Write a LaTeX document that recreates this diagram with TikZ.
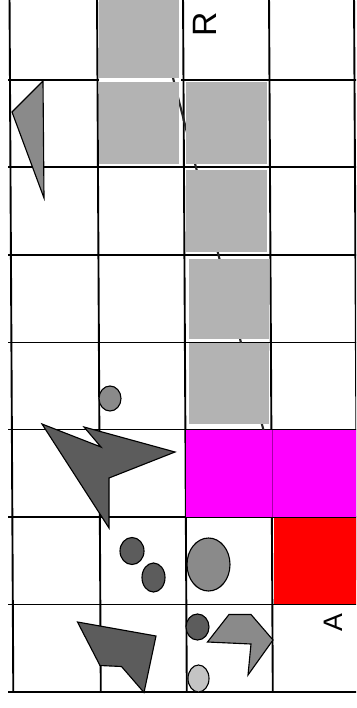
\documentclass[tikz,border=0pt]{standalone}
\usepackage{fontspec}
\setmainfont{Liberation Sans}
\usepackage{xcolor}
\usepackage{tikz}

\definecolor{boxgray}{HTML}{B3B3B3}
\definecolor{inkdark}{HTML}{5C5C5C}
\definecolor{inkmid}{HTML}{8A8A8A}
\definecolor{inklight}{HTML}{C4C4C4}
\definecolor{cellmagenta}{HTML}{FF00FF}
\definecolor{cellred}{HTML}{FF0000}

\begin{document}
\begin{tikzpicture}[x=0.025cm, y=-0.025cm,
    gridline/.style={line width=1.35pt, black},
    graycell/.style={fill=boxgray},
    figdark/.style={fill=inkdark, draw=black, line width=0.8pt, line join=miter},
    figmid/.style={fill=inkmid, draw=black, line width=0.8pt, line join=miter},
    figlight/.style={fill=inklight, draw=black, line width=0.8pt},
    letter/.style={rotate=90, inner sep=0pt}]
        \useasboundingbox (0,0) rectangle (356,708);
        \clip (0,0) rectangle (356,708);

        % Grid
        \foreach \xt in {9.5,97,183,269,354}
            \draw[gridline] (\xt,-7) -- ++(3.8,699);
        \foreach \yt in {80,167,255,342.5,429.5,517,604.5}
            \draw[gridline] (8,\yt) -- (360,\yt);
        \draw[gridline, line width=1.6pt] (8,692) -- (360,692);

        % Hidden route under the gray cells
        \fill[white] (98.5,77.5) rectangle (181,82.5);
        \coordinate (routetop) at (153,0);
        \coordinate (routeend) at (266,440);
        \draw[line width=1.5pt, black!85] (routetop) -- (routeend);

        % Gray cells
        \fill[graycell] (98.5,-7) rectangle (179,78);
        \fill[graycell] (98.5,82) rectangle (179,164);
        \fill[graycell] (185.5,82) rectangle (267,164);
        \fill[graycell] (185.5,170) rectangle (267,252);
        \fill[graycell] (189,259) rectangle (269,339);
        \fill[graycell] (189,343) rectangle (269,424);

        % Coloured cells
        \fill[cellmagenta] (186,429.5) rectangle (360,516.5);
        \draw[cellmagenta!65!black, line width=0.3pt] (272,429.5) -- (272,516.5);
        \fill[cellred] (274,517.5) rectangle (360,604);

        % Figures
        \filldraw[figmid] (43,81) -- (12,112) -- (44,198) -- cycle;
        \filldraw[figmid] (110,398.5) ellipse [x radius=11, y radius=12.5];
        \filldraw[figdark] (42,424) -- (101,447) -- (84,427) -- (175,452)
            -- (109,478) -- (109,528) -- cycle;
        \filldraw[figdark] (132,551) ellipse [x radius=12, y radius=13.5];
        \filldraw[figdark] (153.5,577.5) ellipse [x radius=11.5, y radius=14.5];
        \filldraw[figmid] (208.5,564.5) ellipse [x radius=21.5, y radius=26.5];
        \filldraw[figdark] (77.5,622) -- (100,665.5) -- (121.5,666.5)
            -- (144,692.5) -- (156,636) -- cycle;
        \filldraw[figdark] (197.5,627) ellipse [x radius=11.5, y radius=13];
        \filldraw[figlight] (198.5,678.5) ellipse [x radius=10.5, y radius=13.5];
        \filldraw[figmid] (207.5,642) -- (229,614.5) -- (251,614.5) -- (273,640)
            -- (248,675) -- (251,644) -- cycle;

        % Labels
        \node (labelR) [letter, font=\fontsize{24}{24}\selectfont] at (205,24) {R};
        \node (labelA) [letter, font=\fontsize{19}{19}\selectfont] at (333,623) {A};
    \end{tikzpicture}
\end{document}
